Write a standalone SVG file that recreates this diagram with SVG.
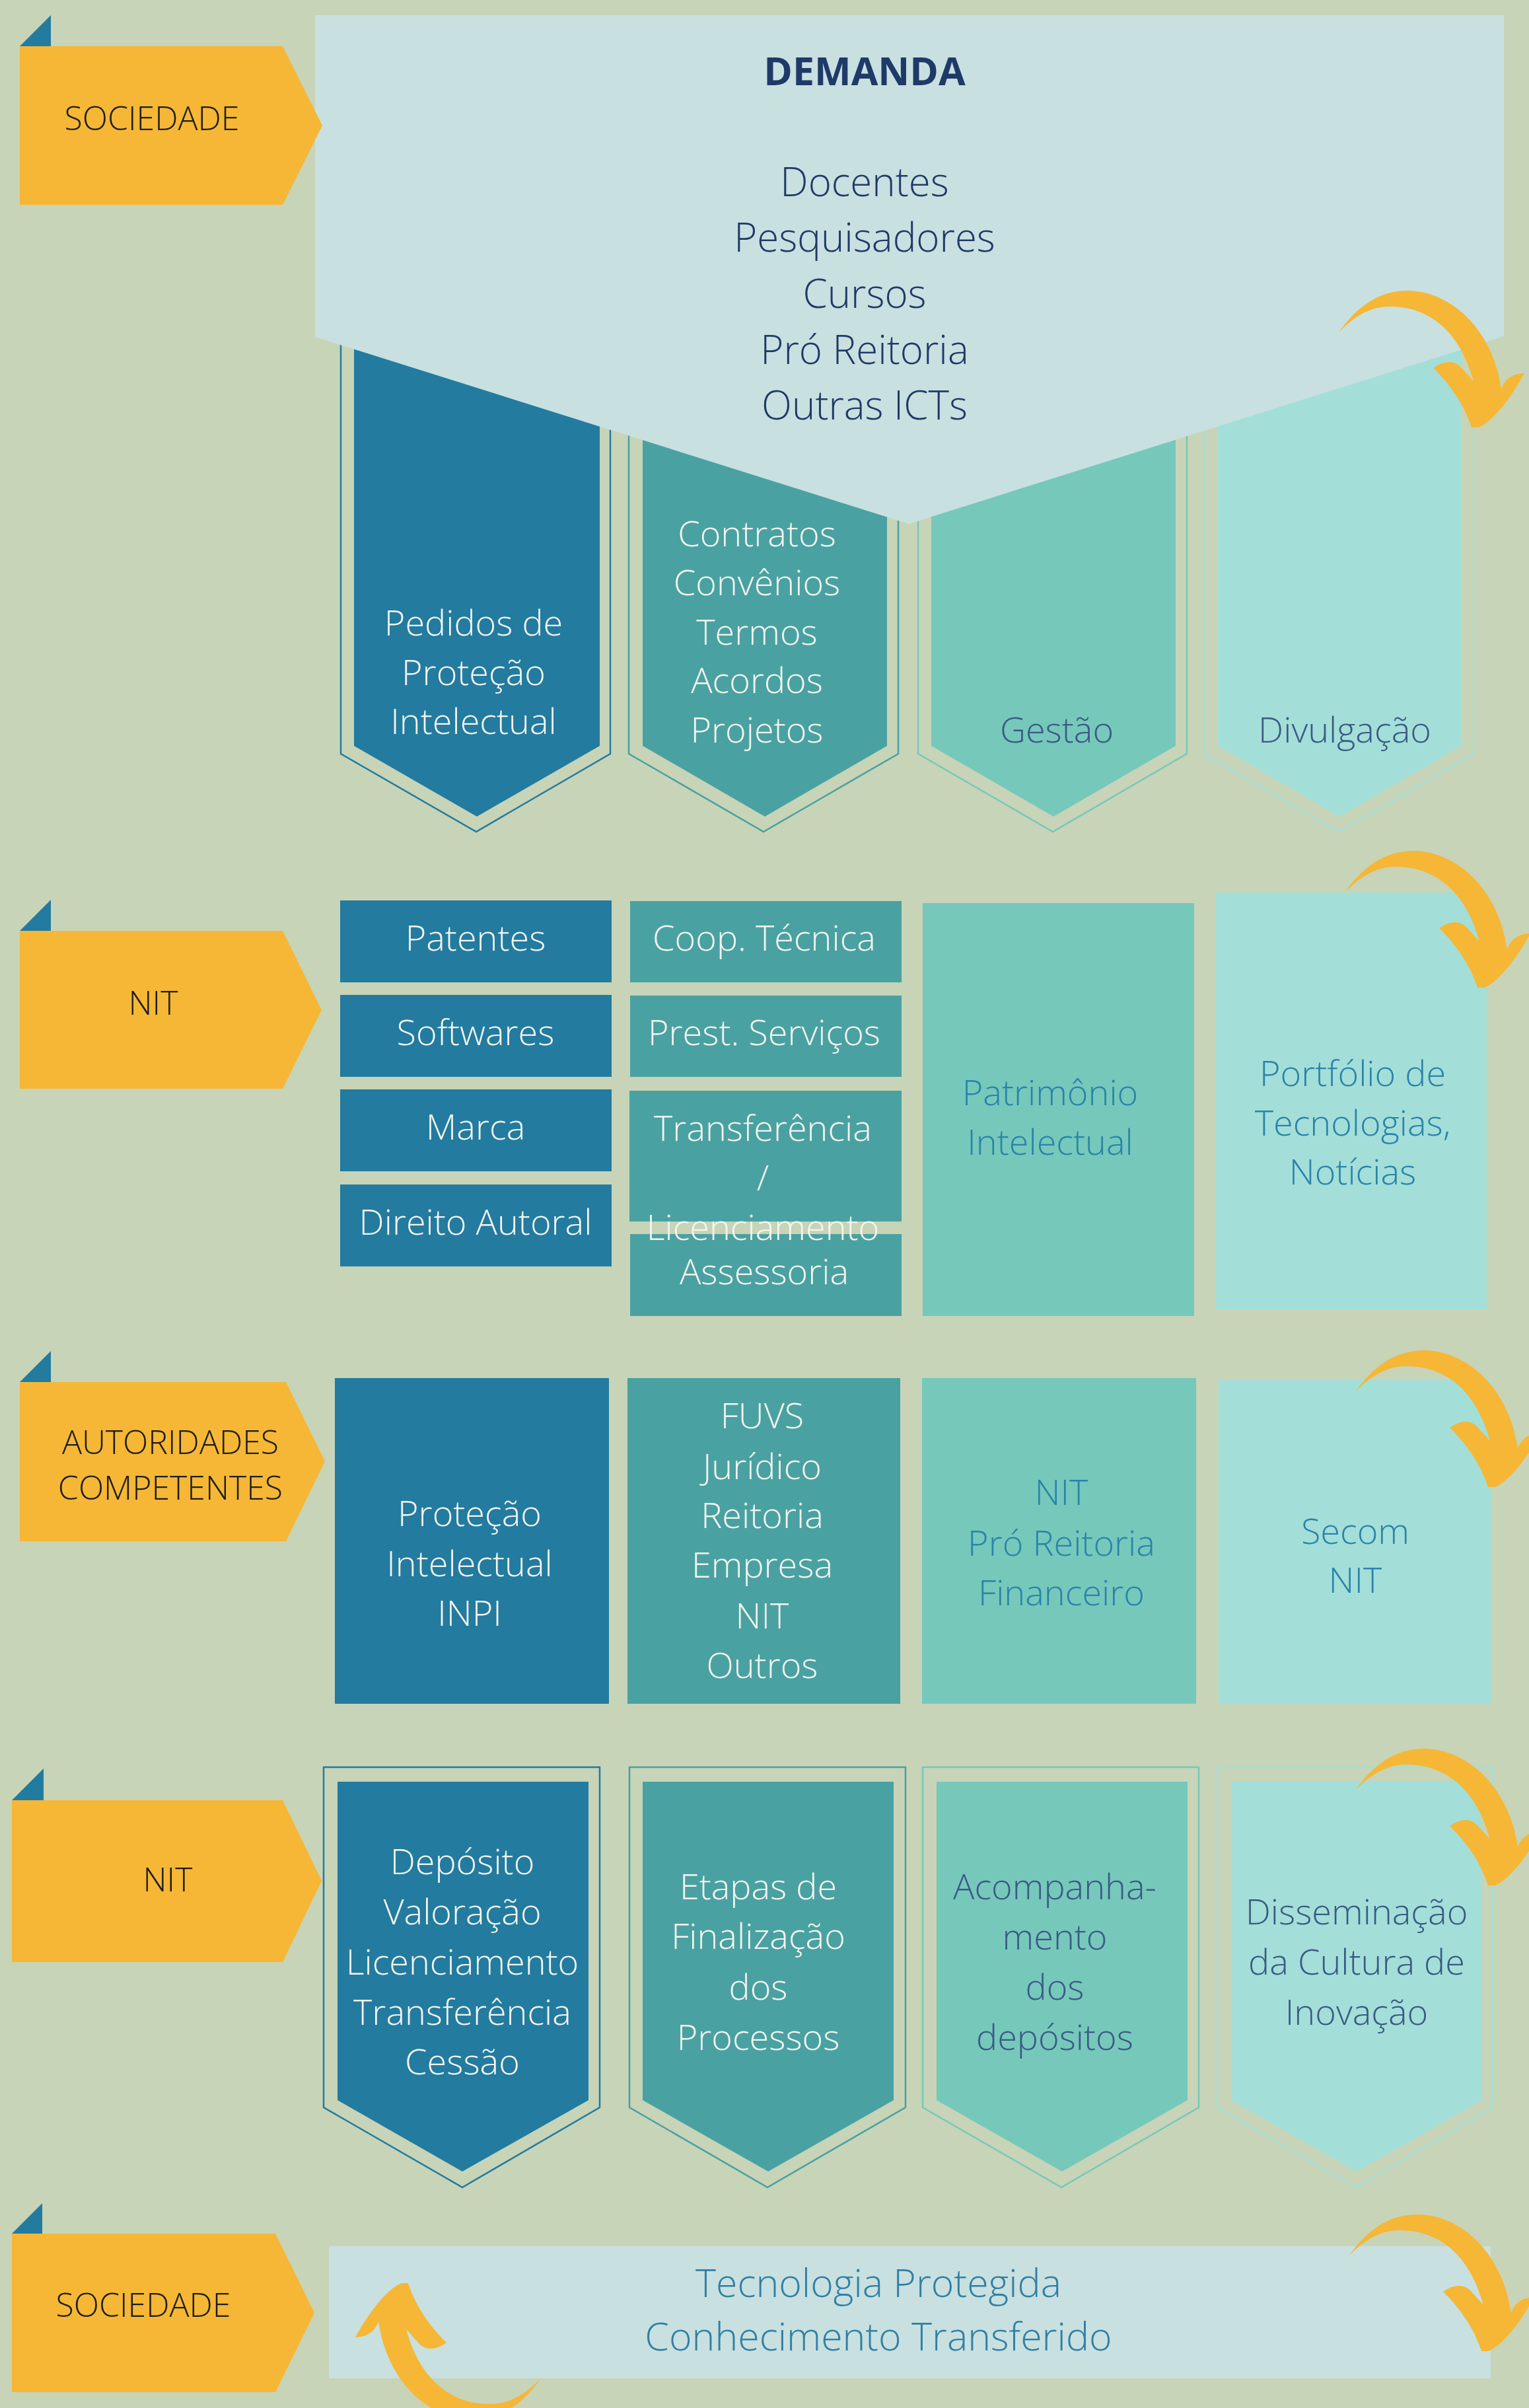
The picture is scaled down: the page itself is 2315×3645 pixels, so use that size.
<svg xmlns="http://www.w3.org/2000/svg" width="2315" height="3645" viewBox="0 0 2315 3645">
<style>
.t{font-family:"Open Sans","Liberation Sans",sans-serif;font-weight:300;text-anchor:middle}
.f50{font-size:50px}.f54{font-size:54px}.f59{font-size:59px}.f60{font-size:60px}
.w{fill:#F3F5EF}.s{fill:#3A5A84}.b{fill:#2A83AA}.k{fill:#1C1C1C}.n{fill:#1F3A68}
.tag{fill:#F5B735}.tri{fill:#237B9F}
.c1{fill:#237B9F}.c2{fill:#4AA1A2}.c3{fill:#76C8BB}.c4{fill:#A3DFD8}
.o1{fill:none;stroke:#237B9F;stroke-width:2.5}.o2{fill:none;stroke:#4AA1A2;stroke-width:2.5}
.o3{fill:none;stroke:#76C8BB;stroke-width:2.5}.o4{fill:none;stroke:#A3DFD8;stroke-width:2.5}
.arr{fill:#F5B735}
</style>
<defs>
<path id="curl" d="M0,0 C18,-25 50,-63 104,-63 C165,-63 232,-10 246,86 C250,75 258,63 281,62 C265,92 235,135 211,144 L201,144 C192,115 172,82 143,54 C155,45 172,40 184,52 L204,74 C192,30 160,-39 77,-39 C40,-39 15,-15 0,0 Z"/>
</defs>
<rect x="0" y="0" width="2315" height="3645" fill="#C7D4B8"/>

<!-- Row 1 chevrons -->
<g id="r1c1">
<polygon class="o1" points="516,518 924,518 924,1141 721,1259 516,1141"/>
<polygon class="c1" points="536,518 908,518 908,1129 722,1236 536,1129"/>
<text class="t f54 w" x="717"><tspan x="717" y="962">Pedidos de</tspan><tspan x="717" y="1037">Proteção</tspan><tspan x="717" y="1111">Intelectual</tspan></text>
</g>
<g id="r1c2">
<polygon class="o2" points="952,525 1360,525 1360,1141 1156,1259 952,1141"/>
<polygon class="c2" points="973,525 1343,525 1343,1129 1158,1236 973,1129"/>
<text class="t f54 w" x="1146"><tspan x="1146" y="827">Contratos</tspan><tspan x="1146" y="901">Convênios</tspan><tspan x="1146" y="976">Termos</tspan><tspan x="1146" y="1049">Acordos</tspan><tspan x="1146" y="1124">Projetos</tspan></text>
</g>
<g id="r1c3">
<polygon class="o3" points="1390,530 1797,530 1797,1141 1594,1259 1390,1141"/>
<polygon class="c3" points="1410,530 1780,530 1780,1129 1595,1236 1410,1129"/>
<text class="t f54 s" x="1600" y="1124">Gestão</text>
</g>
<g id="r1c4">
<polygon class="o4" points="1823,530 2231,530 2231,1141 2027,1259 1823,1141"/>
<polygon class="c4" points="1844,530 2213,530 2213,1129 2028,1236 1844,1129"/>
<text class="t f54 s" x="2036" y="1124">Divulgação</text>
</g>

<!-- Demand panel -->
<g id="demanda">
<polygon points="477,23 2277,23 2277,509 1376,793 477,510" fill="#C9E0E0"/>
<text class="t n" x="1309" y="129" style="font-weight:700;font-size:59px">DEMANDA</text>
<text class="t f60 n" x="1309"><tspan x="1309" y="297">Docentes</tspan><tspan x="1309" y="381">Pesquisadores</tspan><tspan x="1309" y="466">Cursos</tspan><tspan x="1309" y="551">Pró Reitoria</tspan><tspan x="1309" y="635">Outras ICTs</tspan></text>
</g>

<!-- Row labels -->
<g id="tag1">
<polygon class="tri" points="30,70 77,23 77,70"/>
<polygon class="tag" points="30,70 428,70 488,190 428,310 30,310"/>
<text class="t f50 k" x="230" y="197">SOCIEDADE</text>
</g>
<g id="tag2">
<polygon class="tri" points="30,1409 77,1362 77,1409"/>
<polygon class="tag" points="30,1409 428,1409 487,1529 428,1648 30,1648"/>
<text class="t f50 k" x="232" y="1536">NIT</text>
</g>
<g id="tag3">
<polygon class="tri" points="30,2092 77,2045 77,2092"/>
<polygon class="tag" points="30,2092 433,2092 492,2212 433,2333 30,2333"/>
<text class="t f50 k" x="258"><tspan x="258" y="2201">AUTORIDADES</tspan><tspan x="258" y="2270">COMPETENTES</tspan></text>
</g>
<g id="tag4">
<polygon class="tri" points="18,2725 66,2677 66,2725"/>
<polygon class="tag" points="18,2725 428,2725 487,2847 428,2970 18,2970"/>
<text class="t f50 k" x="254" y="2863">NIT</text>
</g>
<g id="tag5">
<polygon class="tri" points="18,3381 64,3335 64,3381"/>
<polygon class="tag" points="18,3381 417,3381 476,3501 417,3621 18,3621"/>
<text class="t f50 k" x="217" y="3507">SOCIEDADE</text>
</g>

<!-- Row 2 -->
<g id="patentes"><rect class="c1" x="515" y="1363" width="411" height="124"/><text class="t f54 w" x="720" y="1439">Patentes</text></g>
<g id="softwares"><rect class="c1" x="515" y="1506" width="411" height="124"/><text class="t f54 w" x="720" y="1582">Softwares</text></g>
<g id="marca"><rect class="c1" x="515" y="1649" width="411" height="124"/><text class="t f54 w" x="720" y="1725">Marca</text></g>
<g id="direito"><rect class="c1" x="515" y="1793" width="411" height="124"/><text class="t f54 w" x="720" y="1869">Direito Autoral</text></g>
<g id="coop"><rect class="c2" x="954" y="1364" width="411" height="123"/><text class="t f54 w" x="1157" y="1439">Coop. Técnica</text></g>
<g id="prest"><rect class="c2" x="954" y="1507" width="411" height="123"/><text class="t f54 w" x="1157" y="1582">Prest. Serviços</text></g>
<g id="assessoria"><rect class="c2" x="954" y="1868" width="411" height="124"/><text class="t f54 w" x="1157" y="1944">Assessoria</text></g>
<g id="transferencia"><rect class="c2" x="953" y="1651" width="412" height="198"/><text class="t f54 w" x="1155"><tspan x="1155" y="1727">Transferência</tspan><tspan x="1155" y="1802">/</tspan><tspan x="1155" y="1877">Licenciamento</tspan></text></g>
<g id="patrimonio"><rect class="c3" x="1397" y="1367" width="411" height="625"/><text class="t f54 b" x="1590"><tspan x="1590" y="1673">Patrimônio</tspan><tspan x="1590" y="1748">Intelectual</tspan></text></g>
<g id="portfolio"><rect class="c4" x="1840" y="1351" width="411" height="631"/><text class="t f54 b" x="2048"><tspan x="2048" y="1644">Portfólio de</tspan><tspan x="2048" y="1719">Tecnologias,</tspan><tspan x="2048" y="1793">Notícias</tspan></text></g>

<!-- Row 3 -->
<g id="r3c1"><rect class="c1" x="507" y="2086" width="415" height="493"/><text class="t f54 w" x="711"><tspan x="711" y="2310">Proteção</tspan><tspan x="711" y="2386">Intelectual</tspan><tspan x="711" y="2461">INPI</tspan></text></g>
<g id="r3c2"><rect class="c2" x="950" y="2086" width="413" height="493"/><text class="t f54 w" x="1154"><tspan x="1154" y="2162">FUVS</tspan><tspan x="1154" y="2239">Jurídico</tspan><tspan x="1154" y="2313">Reitoria</tspan><tspan x="1154" y="2388">Empresa</tspan><tspan x="1154" y="2465">NIT</tspan><tspan x="1154" y="2540">Outros</tspan></text></g>
<g id="r3c3"><rect class="c3" x="1396" y="2086" width="415" height="493"/><text class="t f54 b" x="1607"><tspan x="1607" y="2278">NIT</tspan><tspan x="1607" y="2355">Pró Reitoria</tspan><tspan x="1607" y="2430">Financeiro</tspan></text></g>
<g id="r3c4"><rect class="c4" x="1845" y="2089" width="413" height="490"/><text class="t f54 b" x="2052"><tspan x="2052" y="2337">Secom</tspan><tspan x="2052" y="2411">NIT</tspan></text></g>

<!-- Row 4 chevrons -->
<g id="r4c1">
<polygon class="o1" points="490,2675 908,2675 908,3190 700,3311 490,3190"/>
<polygon class="c1" points="511,2697 891,2697 891,3179 700,3287 511,3179"/>
<text class="t f54 w" x="700"><tspan x="700" y="2837">Depósito</tspan><tspan x="700" y="2913">Valoração</tspan><tspan x="700" y="2989">Licenciamento</tspan><tspan x="700" y="3065">Transferência</tspan><tspan x="700" y="3140">Cessão</tspan></text>
</g>
<g id="r4c2">
<polygon class="o2" points="953,2675 1371,2675 1371,3190 1162,3311 953,3190"/>
<polygon class="c2" points="973,2697 1353,2697 1353,3179 1163,3287 973,3179"/>
<text class="t f54 w" x="1148"><tspan x="1148" y="2875">Etapas de</tspan><tspan x="1148" y="2950">Finalização</tspan><tspan x="1148" y="3027">dos</tspan><tspan x="1148" y="3103">Processos</tspan></text>
</g>
<g id="r4c3">
<polygon class="o3" points="1397,2675 1815,2675 1815,3190 1607,3311 1397,3190"/>
<polygon class="c3" points="1418,2697 1798,2697 1798,3179 1608,3287 1418,3179"/>
<text class="t f54 s" x="1597"><tspan x="1597" y="2875">Acompanha-</tspan><tspan x="1597" y="2951">mento</tspan><tspan x="1597" y="3027">dos</tspan><tspan x="1597" y="3103">depósitos</tspan></text>
</g>
<g id="r4c4">
<polygon class="o4" points="1843,2675 2260,2675 2260,3190 2053,3311 1843,3190"/>
<polygon class="c4" points="1864,2697 2244,2697 2244,3179 2054,3287 1864,3179"/>
<text class="t f54 s" x="2054"><tspan x="2054" y="2913">Disseminação</tspan><tspan x="2054" y="2989">da Cultura de</tspan><tspan x="2054" y="3065">Inovação</tspan></text>
</g>

<!-- Row 5 -->
<g id="resultado">
<rect x="498" y="3400" width="1759" height="200" fill="#C9E0E0"/>
<text class="t f59" x="1330" fill="#2F80A4"><tspan x="1330" y="3477">Tecnologia Protegida</tspan><tspan x="1330" y="3558">Conhecimento Transferido</tspan></text>
</g>

<g id="connectors">
<use href="#curl" class="arr" transform="translate(2027,503)"/>
<use href="#curl" class="arr" transform="translate(2036,1351)"/>
<use href="#curl" class="arr" transform="translate(2052,2107)"/>
<use href="#curl" class="arr" transform="translate(2052,2710)"/>
<use href="#curl" class="arr" transform="translate(2042,3415)"/>
<use href="#curl" class="arr" transform="translate(819,3600) rotate(180)"/>
</g>
</svg>
